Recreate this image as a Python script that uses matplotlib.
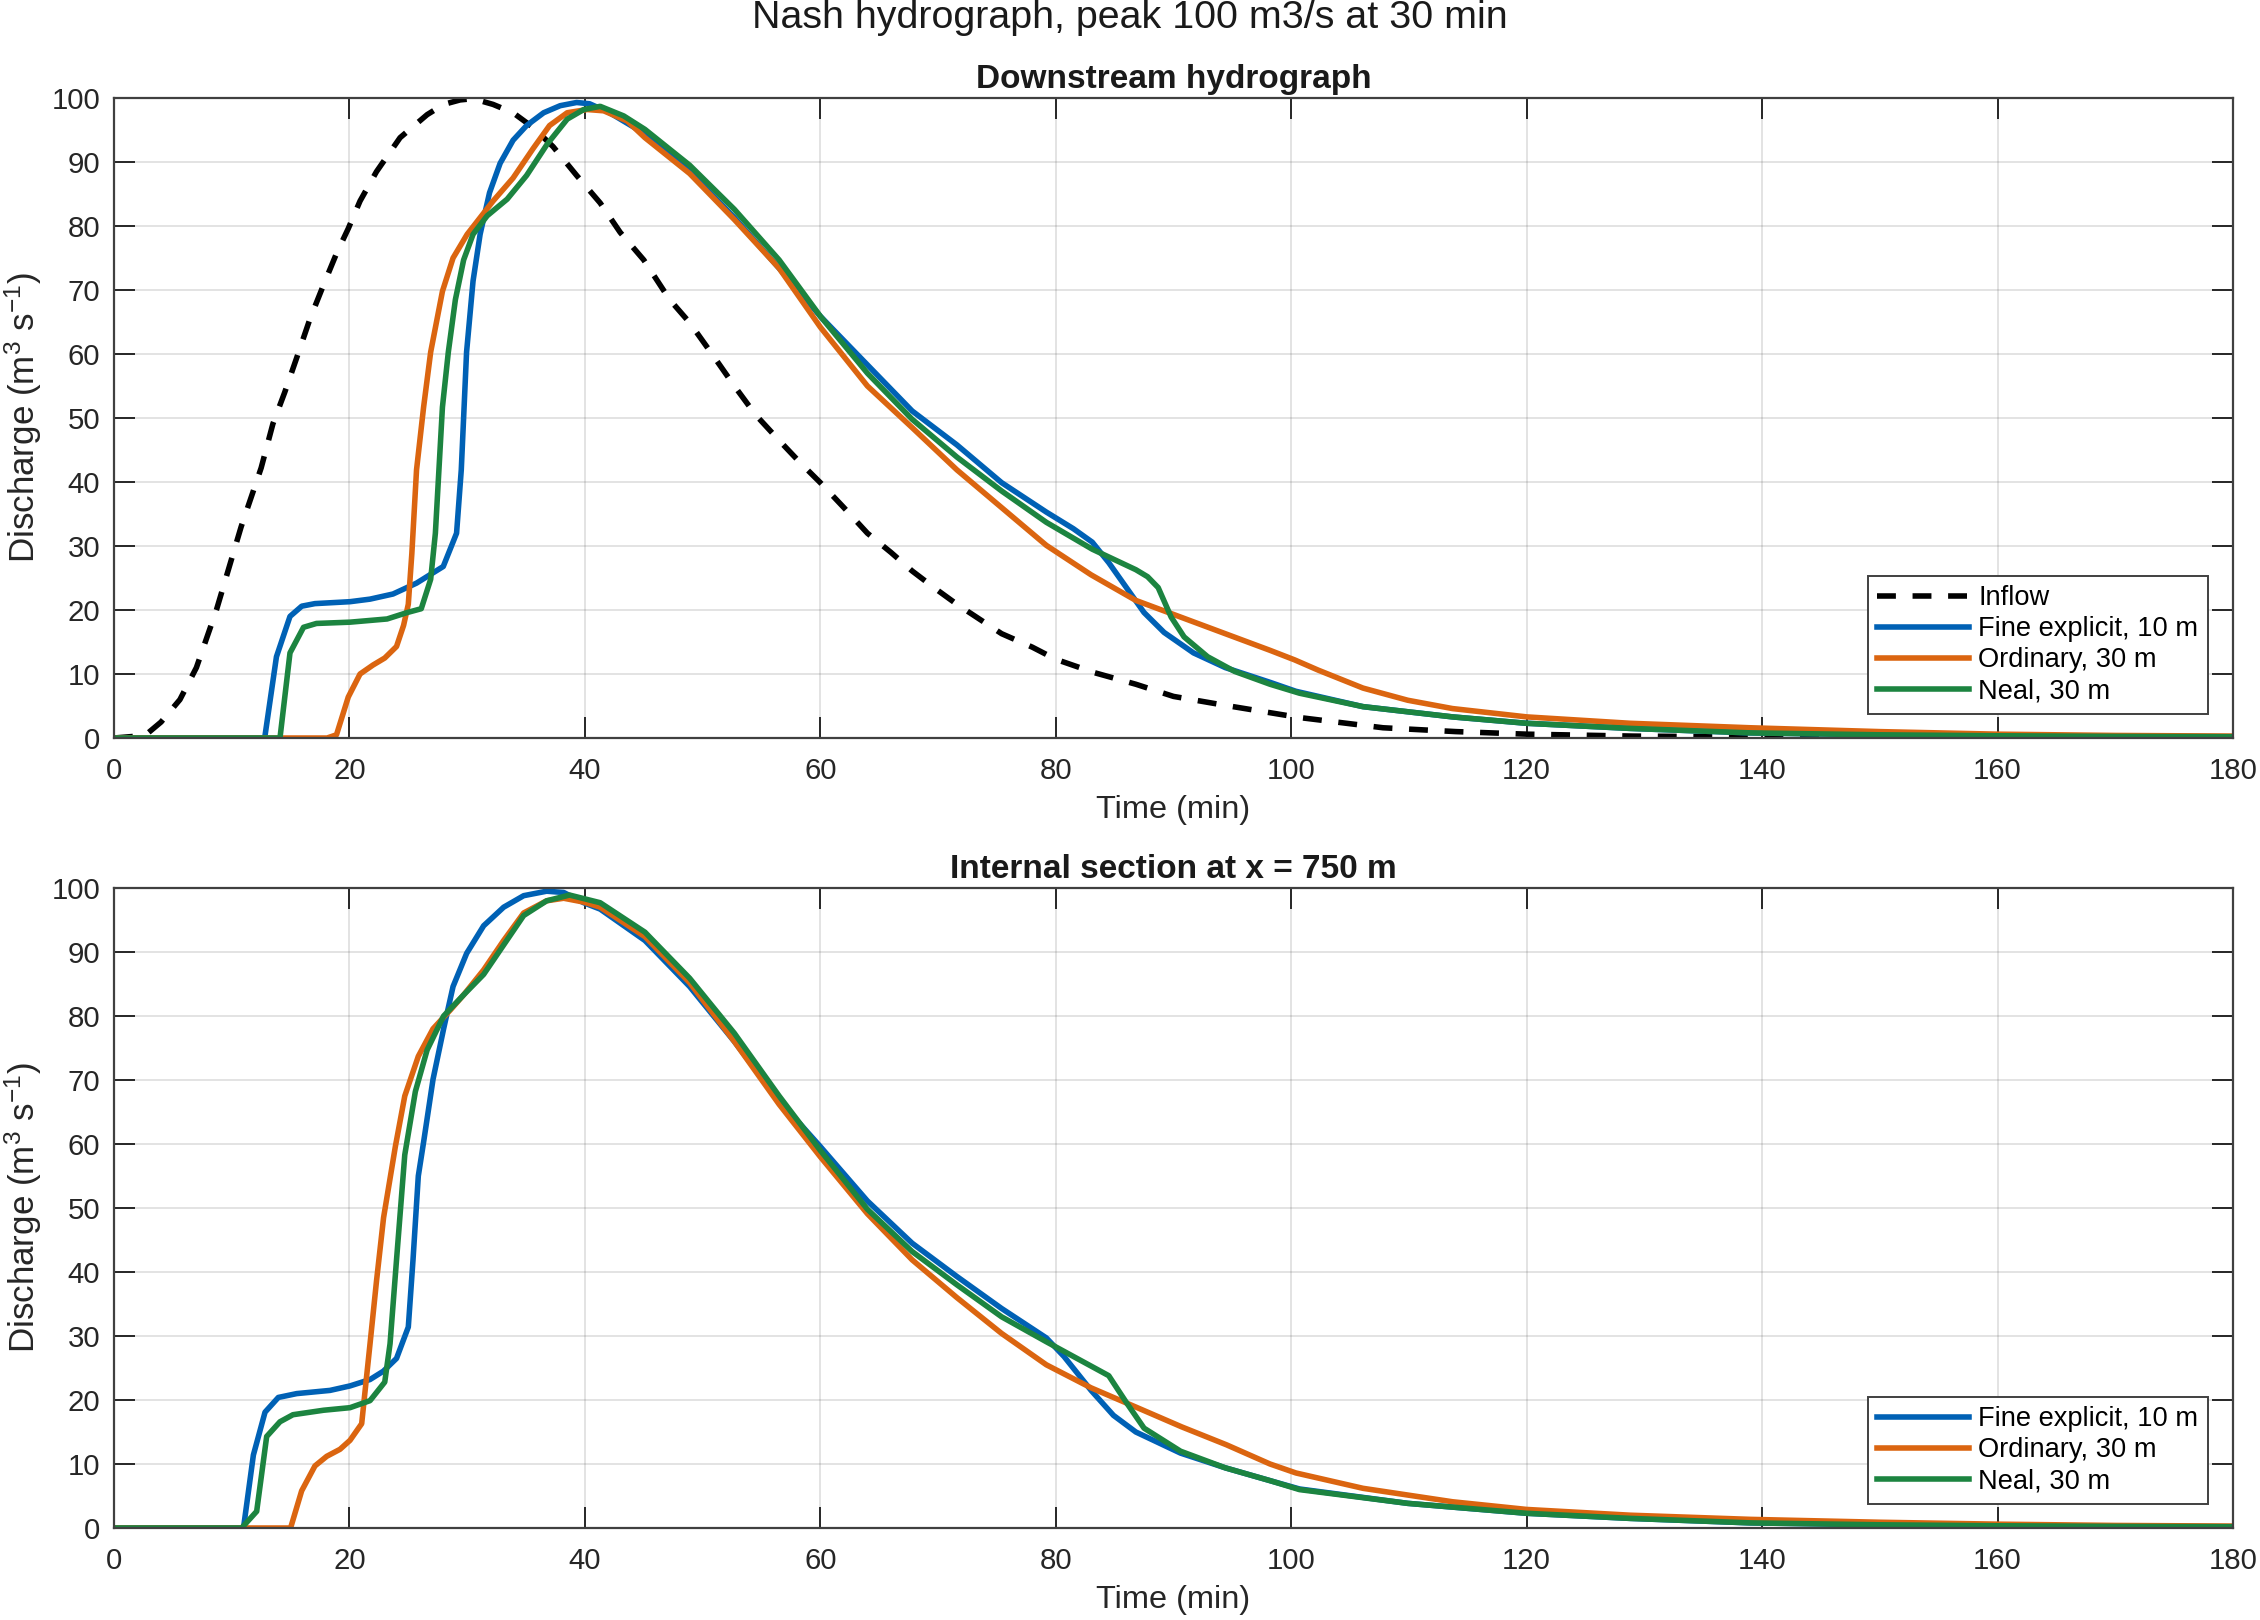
import matplotlib
matplotlib.use("Agg")
import matplotlib.pyplot as plt

plt.rcParams['font.family'] = ['Liberation Sans', 'DejaVu Sans']
plt.rcParams['mathtext.default'] = 'regular'

# ---- data (time in min, discharge in m3/s) ----
# inflow (Nash hydrograph)
t_inflow = [0, 2, 2.9, 4, 5.6, 7, 8.7, 10.8, 12.5, 13.5, 14.5, 15.5, 16.65, 17.8, 18.9,
            19.9, 20.9, 22.3, 24.3, 26.6, 28, 29.4, 30.5, 32.2, 33.9, 35.6, 37.3, 39.3,
            41.3, 43.0, 45.0, 47.2, 48.9, 50.8, 52.7, 54.5, 56.5, 58.3, 60, 62, 64, 66,
            67.8, 69.8, 71.6, 73.5, 75.4, 78, 80, 83.3, 86.8, 90, 94.4, 100.7, 107.8,
            114, 120, 129, 141, 155, 180]
q_inflow = [0, 0.3, 0.8, 2.5, 6, 11, 20, 33, 42.2, 49.1, 54.0, 59.3, 65.5, 70.8, 75.7,
            79.6, 83.9, 88.5, 93.8, 97.4, 99.0, 99.7, 99.9, 99.0, 97.7, 95.4, 92.4, 87.9,
            83.6, 79.0, 74.7, 68.5, 64.9, 60.0, 55.0, 50.5, 46.5, 43.0, 39.9, 36.0, 32.0,
            29.0, 26.1, 23.3, 20.9, 18.6, 16.3, 14.2, 12.3, 10.2, 8.4, 6.5, 5.1, 3.2, 1.6,
            1.0, 0.6, 0.3, 0.15, 0.05, 0.0]

# downstream hydrograph
t_fine_ds = [0, 12.8, 13.8, 14.95, 15.95, 17.07, 20.05, 21.75, 23.7, 25.7, 27.97, 29.1,
             29.5, 29.95, 30.5, 31.1, 31.9, 32.8, 33.9, 35.05, 36.5, 37.9, 39.3, 40.4,
             42.1, 45.1, 48.9, 52.7, 56.5, 60, 64, 67.8, 71.6, 75.4, 79.2, 81.5, 83.1,
             84.5, 86.0, 87.5, 89.2, 91.7, 94.4, 98.2, 100.4, 106.1, 113.7, 120, 128.8,
             139, 150, 160, 170, 180]
q_fine_ds = [0, 0, 12.7, 19.0, 20.6, 21.0, 21.3, 21.7, 22.5, 24.2, 26.8, 32.0,
             41.9, 60.3, 71.4, 78.7, 85.2, 89.8, 93.4, 95.7, 97.7, 98.8, 99.3, 99.1,
             97.7, 94.4, 88.5, 81.3, 73.4, 65.9, 58.3, 51.1, 45.8, 39.9, 35.3, 32.7, 30.6,
             27.4, 23.5, 19.6, 16.5, 13.3, 11.0, 8.7, 7.3, 4.9, 3.3, 2.3, 1.5,
             0.8, 0.5, 0.35, 0.25, 0.2]

t_ord_ds = [0, 18.1, 18.9, 19.9, 20.9, 22.0, 23.0, 24.0, 24.6, 25.0, 25.3, 25.7, 26.3,
            26.9, 27.9, 28.8, 30.0, 31.1, 32.2, 33.9, 35.6, 37.0, 38.5, 40.2, 41.6, 43.6,
            45.1, 48.9, 52.7, 56.5, 60, 64, 67.8, 71.6, 75.4, 79.2, 83.0, 86.8, 90.6,
            94.4, 98.2, 100.3, 102.3, 106.1, 109.9, 113.7, 120, 128.8, 139, 150, 160,
            170, 180]
q_ord_ds = [0, 0, 0.5, 6.4, 10.0, 11.4, 12.5, 14.3, 17.6, 20.9, 28.8, 41.9, 51.7,
            60.3, 69.8, 75.0, 78.7, 81.3, 83.9, 87.5, 92.1, 95.7, 97.7, 98.2, 98.0, 96.4,
            93.8, 88.2, 81.0, 73.4, 64.2, 55.0, 48.5, 41.9, 36.0, 30.1, 25.5, 21.5, 18.9,
            16.3, 13.7, 12.2, 10.6, 7.8, 5.9, 4.6, 3.3, 2.3, 1.6, 1.0, 0.6,
            0.4, 0.3]

t_neal_ds = [0, 14.1, 14.95, 16.1, 17.2, 20.05, 23.2, 24.9, 26.1, 26.9, 27.3, 27.9,
             28.4, 29.0, 29.7, 30.5, 31.7, 33.4, 35.05, 36.8, 38.5, 39.9, 41.3, 43.3,
             45.1, 48.9, 52.7, 56.5, 60, 64, 67.8, 71.6, 75.4, 79.2, 83.1, 86.8, 87.8,
             88.7, 89.8, 90.9, 92.9, 95.2, 98.2, 100.7, 106.1, 113.7, 120, 128.8, 139,
             150, 160, 170, 180]
q_neal_ds = [0, 0, 13.3, 17.3, 17.9, 18.1, 18.6, 19.6, 20.2, 24.8, 32.0, 51.7,
             60.3, 68.5, 74.7, 78.7, 81.6, 84.2, 87.9, 92.8, 96.7, 98.2, 98.7, 97.2,
             95.1, 89.5, 82.6, 74.7, 65.9, 57.0, 49.8, 43.9, 38.6, 33.7, 29.5, 26.3, 25.2,
             23.5, 18.9, 15.8, 12.7, 10.4, 8.4, 7.0, 4.9, 3.3, 2.3, 1.5, 0.8,
             0.5, 0.35, 0.25, 0.2]

# internal section at x = 750 m
t_fine_in = [0, 11.0, 11.84, 12.83, 13.96, 15.52, 18.35, 20.05, 21.75, 22.88, 24.0, 25.0,
             25.4, 25.85, 26.3, 27.1, 28.0, 28.8, 29.96, 31.4, 33.1, 34.8, 36.75, 38.2,
             39.9, 41.3, 45.1, 48.9, 52.7, 56.5, 60, 64, 67.8, 71.6, 75.4, 79.2, 80.7,
             83.0, 84.9, 86.8, 90.6, 94.4, 98.2, 100.7, 109.9, 120, 128.8, 139, 150, 160,
             170, 180]
q_fine_in = [0, 0, 11.4, 18.1, 20.4, 21.0, 21.5, 22.2, 23.2, 24.5, 26.5, 31.4,
             41.9, 55.0, 60.3, 70.1, 78.0, 84.6, 89.8, 94.1, 97.0, 98.8, 99.5, 99.3,
             97.7, 96.7, 91.8, 84.6, 76.0, 66.8, 59.6, 51.1, 44.5, 39.3, 34.3, 29.7, 26.8,
             21.5, 17.6, 15.0, 11.7, 9.4, 7.4, 6.1, 3.85, 2.3, 1.5, 0.8, 0.5, 0.35,
             0.25, 0.2]

t_ord_in = [0, 15.0, 15.94, 17.07, 18.07, 19.2, 20.05, 21.04, 21.3, 21.75, 22.3, 22.9,
            23.9, 24.7, 25.85, 27.1, 28.6, 29.7, 31.4, 33.1, 34.8, 36.75, 38.2, 39.9,
            41.3, 45.1, 48.9, 52.7, 56.5, 60, 64, 67.8, 71.6, 75.4, 79.2, 83.0, 86.8,
            90.7, 94.5, 98.2, 100.4, 106.1, 113.7, 120, 128.8, 139, 150, 160, 170, 180]
q_ord_in = [0, 0, 5.8, 9.7, 11.2, 12.3, 13.7, 16.3, 20.9, 28.8, 38.6, 48.5,
            59.6, 67.5, 73.7, 78.0, 81.0, 83.3, 87.2, 91.8, 96.1, 98.0, 98.4, 97.8,
            97.0, 92.4, 85.2, 76.0, 66.2, 58.0, 49.1, 41.9, 36.0, 30.4, 25.5, 21.9, 18.9,
            15.8, 13.0, 10.0, 8.6, 6.2, 4.1, 2.9, 2.0, 1.35, 0.9, 0.6, 0.4, 0.3]

t_neal_in = [0, 10.84, 12.12, 12.97, 14.1, 15.2, 17.8, 20.05, 21.75, 23.0, 23.45, 24.0,
             24.7, 25.6, 26.6, 28.0, 29.7, 31.4, 33.1, 34.8, 36.75, 38.7, 41.3, 45.1,
             48.9, 52.7, 56.5, 60, 64, 67.8, 71.6, 75.4, 79.2, 82.2, 84.5, 86.0, 87.5,
             90.6, 94.4, 98.2, 100.7, 109.9, 120, 128.8, 139, 150, 160, 170, 180]
q_neal_in = [0, 0, 2.6, 14.3, 16.6, 17.7, 18.4, 18.8, 19.9, 22.8, 28.8, 41.9,
             58.3, 68.2, 74.7, 80.0, 83.3, 86.5, 91.1, 95.7, 98.0, 98.9, 97.7, 93.1,
             85.9, 77.3, 67.5, 59.0, 49.8, 43.2, 38.0, 33.0, 29.1, 26.1, 23.8, 19.6, 15.6,
             12.0, 9.4, 7.4, 6.0, 3.85, 2.3, 1.5, 0.8, 0.5, 0.35, 0.25, 0.2]

x_ticks = list(range(0, 181, 20))
y_ticks = list(range(0, 101, 10))

blue = '#0061B5'
orange = '#DB6510'
green = '#1C8440'
lw = 2.0
axcol = '#404040'

fig = plt.figure(figsize=(11.3, 8.1), dpi=200)
ax1 = fig.add_axes([0.05044, 0.54444, 0.93761, 0.39506])
ax2 = fig.add_axes([0.05044, 0.05679, 0.93761, 0.39506])

ax1.plot(t_inflow, q_inflow, color='black', lw=lw, dashes=(3.4, 3.0), label='Inflow')
ax1.plot(t_fine_ds, q_fine_ds, color=blue, lw=lw, label='Fine explicit, 10 m')
ax1.plot(t_ord_ds, q_ord_ds, color=orange, lw=lw, label='Ordinary, 30 m')
ax1.plot(t_neal_ds, q_neal_ds, color=green, lw=lw, label='Neal, 30 m')

ax2.plot(t_fine_in, q_fine_in, color=blue, lw=lw, label='Fine explicit, 10 m')
ax2.plot(t_ord_in, q_ord_in, color=orange, lw=lw, label='Ordinary, 30 m')
ax2.plot(t_neal_in, q_neal_in, color=green, lw=lw, label='Neal, 30 m')

titles = ['Downstream hydrograph', 'Internal section at x = 750 m']
for ax, title in zip([ax1, ax2], titles):
    ax.set_xlim(0, 180)
    ax.set_ylim(0, 100)
    ax.set_xticks(x_ticks)
    ax.set_yticks(y_ticks)
    ax.grid(True, color='#262626', alpha=0.15, lw=0.6)
    ax.set_axisbelow(True)
    ax.tick_params(direction='in', top=True, right=True, length=7.5, width=0.7,
                   color='#262626', labelsize=10.6, labelcolor='#262626')
    ax.tick_params(axis='x', pad=7)
    ax.tick_params(axis='y', pad=5)
    for s in ax.spines.values():
        s.set_color(axcol)
        s.set_linewidth(0.8)
    ax.set_title(title, fontsize=12, fontweight='bold', pad=3.5, color='#1a1a1a')
    ax.set_xlabel('Time (min)', fontsize=11.7, color='#262626')
    ax.set_ylabel('Discharge (m$^3$ s$^{-1}$)', fontsize=12.6, color='#262626')
    ax.xaxis.set_label_coords(0.5, -0.089)
    ax.yaxis.set_label_coords(-0.033, 0.5)
    leg = ax.legend(loc='lower right', bbox_to_anchor=(0.988, 0.038), borderaxespad=0,
                    fontsize=9.8, handlelength=3.35, handletextpad=0.35,
                    labelspacing=0.18, borderpad=0.35, fancybox=False, framealpha=1)
    leg.get_frame().set_edgecolor(axcol)
    leg.get_frame().set_linewidth(0.7)

fig.suptitle('Nash hydrograph, peak 100 m3/s at 30 min', fontsize=14.2, y=0.989,
             va='center', color='#1a1a1a')

fig.savefig('out.png', dpi=200)
